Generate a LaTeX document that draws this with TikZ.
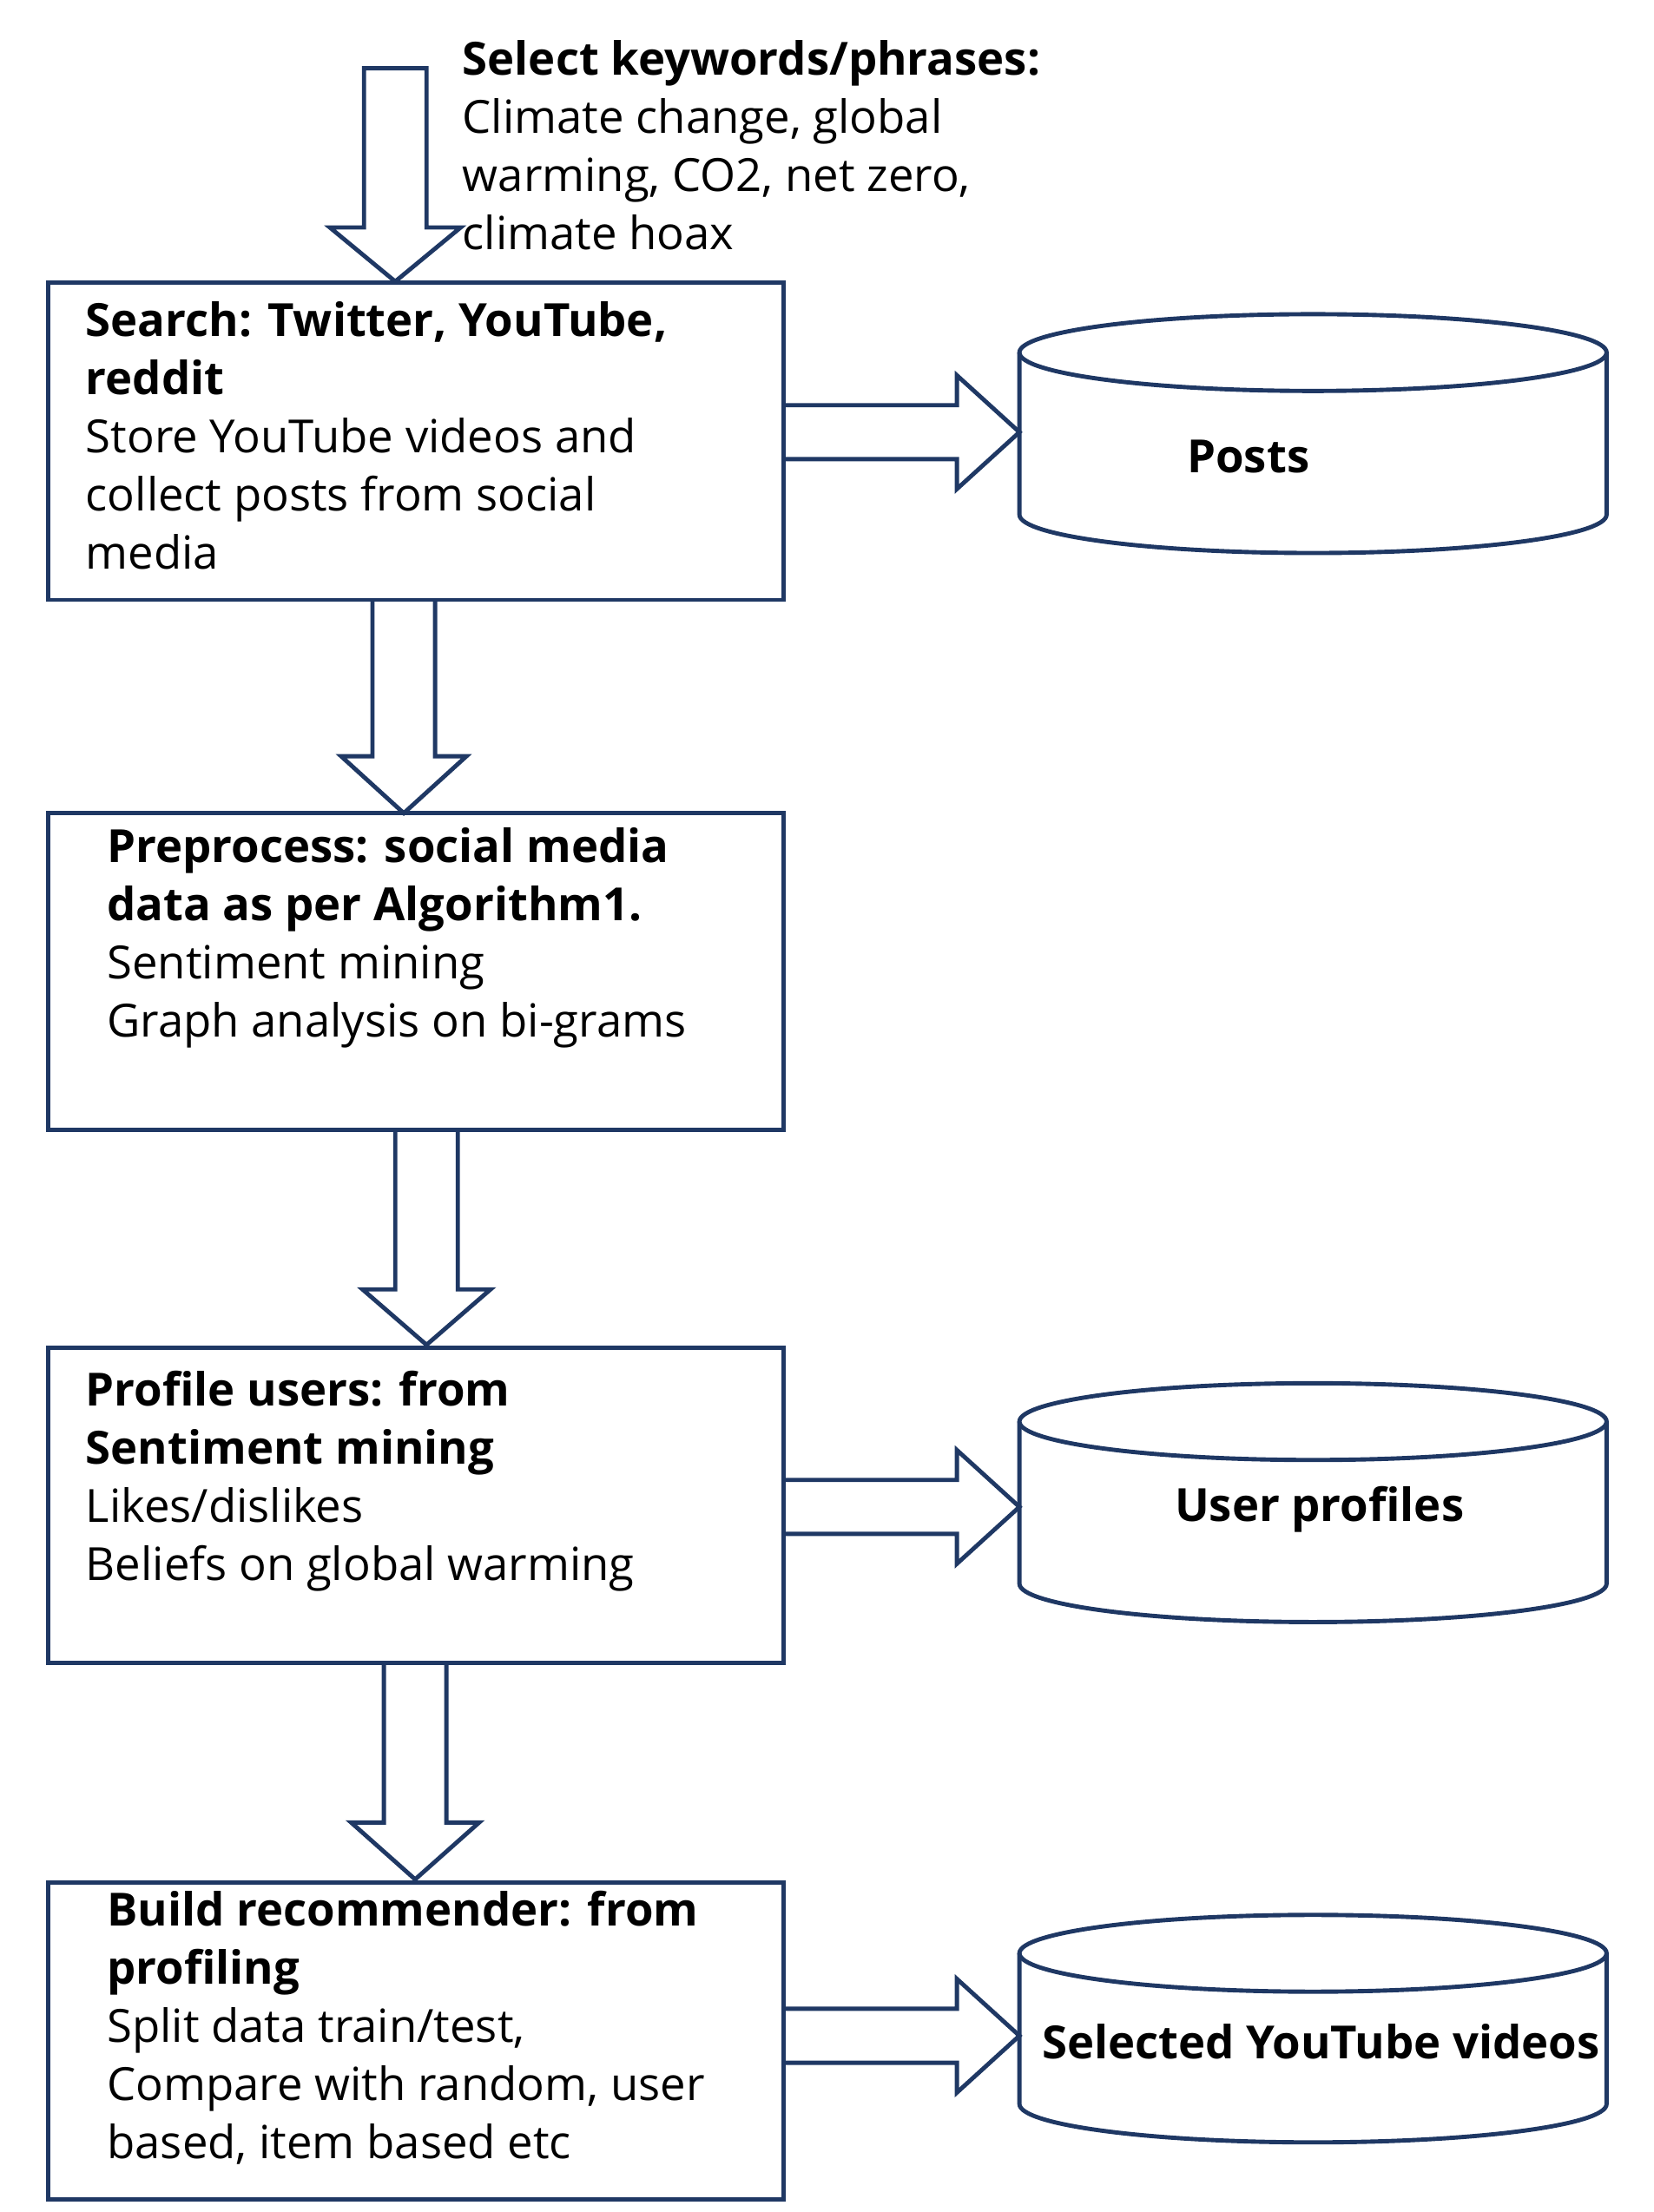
\documentclass[tikz,border=0pt]{standalone}
\usepackage{fontspec}
\setmainfont{Open Sans}
\begin{document}
\begin{tikzpicture}[x=0.02cm,y=-0.02cm,
  ln/.style={draw=navy,line width=1.7pt,line join=miter},
  box/.style={ln},
  txt/.style={anchor=north west,align=left,inner sep=0pt,font=\fontsize{18.3}{23.3}\selectfont},
  lbl/.style={font=\fontsize{18.3}{23.3}\selectfont\bfseries}]
\definecolor{navy}{HTML}{1F3864}
\useasboundingbox (0,0) rectangle (1163,1556);
% top arrow
\draw[ln] (256,48)--(300,48)--(300,160)--(324,160)--(278,198)--(232,160)--(256,160)--cycle;
\node[txt] (kw) at (325,28) {\textbf{Select keywords/phrases:}\\Climate change, global\\warming, CO2, net zero,\\climate hoax};
% boxes
\draw[box] (34,199) rectangle (551,422);
\node[txt] (b1) at (60,212) {\textbf{Search: Twitter, YouTube,}\\\textbf{reddit}\\Store YouTube videos and\\collect posts from social\\media};
\draw[box] (34,572) rectangle (551,795);
\node[txt] (b2) at (75,582) {\textbf{Preprocess: social media}\\\textbf{data as per Algorithm1.}\\Sentiment mining\\Graph analysis on bi-grams};
\draw[box] (34,948) rectangle (551,1170);
\node[txt] (b3) at (60,964) {\textbf{Profile users: from}\\\textbf{Sentiment mining}\\Likes/dislikes\\Beliefs on global warming};
\draw[box] (34,1324) rectangle (551,1547);
\node[txt] (b4) at (75,1330) {\textbf{Build recommender: from}\\\textbf{profiling}\\Split data train/test,\\Compare with random, user\\based, item based etc};
% down arrows
\draw[ln] (262,422)--(262,532)--(240,532)--(284,572)--(328,532)--(306,532)--(306,422);
\draw[ln] (278,795)--(278,907)--(255,907)--(300,946)--(345,907)--(322,907)--(322,795);
\draw[ln] (270,1170)--(270,1282)--(247,1282)--(292,1322)--(337,1282)--(314,1282)--(314,1170);
% right arrows
\foreach \y in {304,1060,1432}{
 \draw[ln] (551,\y-19)--(673,\y-19)--(673,\y-40)--(717,\y)--(673,\y+40)--(673,\y+19)--(551,\y+19);
}
% cylinders
\foreach \t/\b in {248/362,1000/1114,1374/1480}{
 \draw[ln] (923.5,\t) ellipse (206.5 and 27);
 \draw[ln] (717,\t)--(717,\b) arc[start angle=180,end angle=0,x radius=206.5,y radius=27]--(1130,\t);
}
\node[lbl] (posts) at (878,321) {Posts};
\node[lbl] (up) at (928,1062) {User profiles};
\node[lbl] (yt) at (929,1436) {Selected YouTube videos};
\end{tikzpicture}
\end{document}
